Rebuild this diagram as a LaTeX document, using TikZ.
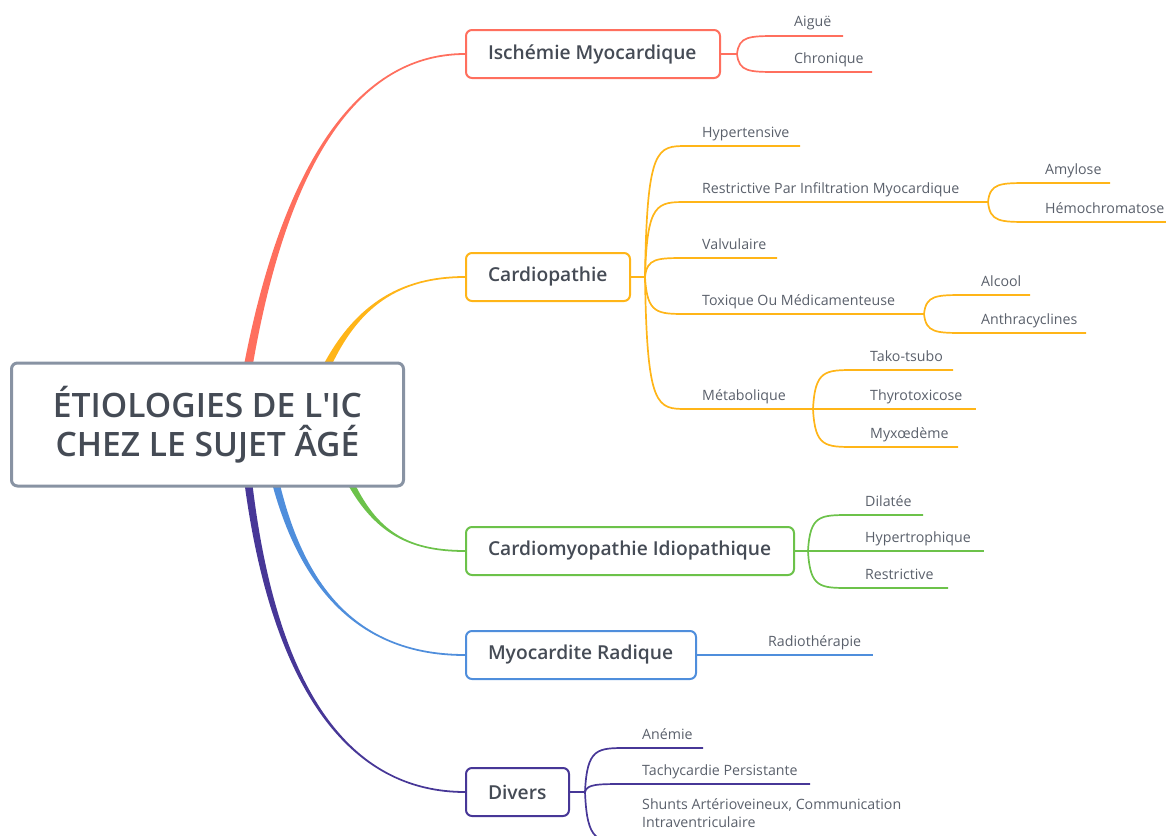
\documentclass[tikz,border=0pt]{standalone}
\usepackage{fontspec}
\setmainfont{Open Sans}
\newfontfamily\semi{Open Sans Semibold}
\usetikzlibrary{calc}
\pgfdeclarelayer{bg}
\pgfsetlayers{bg,main}
\definecolor{cred}{HTML}{FF6F5E}
\definecolor{cyel}{HTML}{FFB518}
\definecolor{cgrn}{HTML}{6CC24A}
\definecolor{cblu}{HTML}{4F8EDC}
\definecolor{cpur}{HTML}{473797}
\definecolor{rootb}{HTML}{8893A3}
\definecolor{txt}{HTML}{454B55}
\definecolor{ltxt}{HTML}{5A606B}
% tapered connector: colour, start, c1, c2, end, half width at start, side sign
\newcommand\taper[7]{%
  \fill[#1] ($#2+(-#6,0)$) .. controls ($#3+(-#6*0.6,0)$) and ($#4+#7*(0,-0.9)$) .. ($#5+#7*(0,-0.9)$)
    -- ($#5+#7*(0,0.9)$) .. controls ($#4+#7*(0,0.9)$) and ($#3+(#6*0.6,0)$) .. ($#2+(#6,0)$) -- cycle;}
\newcommand\twigline[3]{%
  \draw[twig=#1] (#2) .. controls ($(#2 |- #3)+(2,0)$) and ($(#2 |- #3)+(12,0)$) .. ($(#2 |- #3)+(42,0)$) -- (#3);}
\newcommand\twig[5]{%
  \twigline{#1}{#2}{#3}
  \node[leaf] (#4) at ($(#2 |- #3)+(57,-9)$) {#5};}
\newcommand\btext[2]{\makebox[#1][l]{#2}}
\begin{document}
\begin{tikzpicture}[x=1pt,y=-1pt,
  rootbox/.style={draw=rootb, line width=3pt, rounded corners=6pt, fill=white,
    minimum width=392pt, minimum height=123pt, align=center,
    font=\semi\fontsize{33.6}{39}\selectfont, text=txt},
  branch/.style={draw=#1, line width=2pt, rounded corners=6pt, fill=white,
    minimum height=48pt, anchor=west, inner xsep=22pt,
    font=\semi\fontsize{19.2}{23}\selectfont, text=txt},
  leaf/.style={anchor=base west, inner sep=0pt, font=\fontsize{14.2}{17}\selectfont, text=ltxt},
  twig/.style={draw=#1, line width=1.7pt}]
\useasboundingbox (0,0) rectangle (1166,835);

% root and branch nodes
\node[rootbox] (root) at (207.5,424.5) {ÉTIOLOGIES DE L\textquotesingle IC\\CHEZ LE SUJET ÂGÉ};
\node[branch=cred] (isc) at (465,54) {\btext{210pt}{Ischémie Myocardique}};
\node[branch=cyel] (car) at (465,277) {\btext{120pt}{Cardiopathie}};
\node[branch=cgrn] (cmi) at (465,551) {\btext{284pt}{Cardiomyopathie Idiopathique}};
\node[branch=cblu] (myo) at (465,655) {\btext{186pt}{Myocardite Radique}};
\node[branch=cpur] (div) at (465,792) {\btext{59pt}{Divers}};

% tapered main connectors
\coordinate (r1) at ($(root.north)+(38.5,17)$);
\coordinate (r2) at ($(root.north)+(114.5,15)$);
\coordinate (r3) at ($(root.south)+(137.5,-16)$);
\coordinate (r4) at ($(root.south)+(65.5,-16)$);
\coordinate (r5) at ($(root.south)+(39.5,-16)$);
\begin{pgfonlayer}{bg}
\taper{cred}{(r1)}{(280,180)}{(350,54)}{(isc.west)}{4.5}{1}
\taper{cyel}{(r2)}{(354,305)}{(400,277)}{(car.west)}{4.5}{1}
\taper{cgrn}{(r3)}{(372,530)}{(405,551)}{(cmi.west)}{4}{-1}
\taper{cblu}{(r4)}{(300,590)}{(360,655)}{(myo.west)}{4}{-1}
\taper{cpur}{(r5)}{(272,690)}{(350,792)}{(div.west)}{4}{-1}
\end{pgfonlayer}

% Ischémie
\coordinate (fI) at ($(isc.east)+(16,0)$);
\draw[twig=cred] (isc.east) -- (fI);
\coordinate (eAig) at (843,36);
\coordinate (eChr) at (872,72);
\twig{cred}{fI}{eAig}{aig}{Aiguë}
\twig{cred}{fI}{eChr}{chr}{Chronique}

% Cardiopathie
\coordinate (fC) at ($(car.east)+(14,0)$);
\draw[twig=cyel] (car.east) -- (fC);
\coordinate (eHyp) at (800,146);
\coordinate (fR) at (988,202);
\coordinate (eVal) at (777,258);
\coordinate (fT) at (924,314);
\coordinate (fM) at (813,409);
\twig{cyel}{fC}{eHyp}{hyp}{Hypertensive}
\twig{cyel}{fC}{fR}{res}{Restrictive Par Infiltration Myocardique}
\twig{cyel}{fC}{eVal}{val}{Valvulaire}
\twig{cyel}{fC}{fT}{tox}{Toxique Ou Médicamenteuse}
\twig{cyel}{fC}{fM}{met}{Métabolique}
\coordinate (eAmy) at (1110,183);
\coordinate (eHem) at (1170,222);
\twig{cyel}{fR}{eAmy}{amy}{Amylose}
\twig{cyel}{fR}{eHem}{hem}{Hémochromatose}
\coordinate (eAlc) at (1030,295);
\coordinate (eAnt) at (1086,333);
\twig{cyel}{fT}{eAlc}{alc}{Alcool}
\twig{cyel}{fT}{eAnt}{ant}{Anthracyclines}
\coordinate (eTak) at (953,370);
\coordinate (eThy) at (976,409);
\coordinate (eMyx) at (958,447);
\twig{cyel}{fM}{eTak}{tak}{Tako-tsubo}
\twig{cyel}{fM}{eThy}{thy}{Thyrotoxicose}
\twig{cyel}{fM}{eMyx}{myx}{Myxœdème}

% Cardiomyopathie idiopathique
\coordinate (fG) at ($(cmi.east)+(13,0)$);
\draw[twig=cgrn] (cmi.east) -- (fG);
\coordinate (eDil) at (923,515);
\coordinate (eHpt) at (984,551);
\coordinate (eRst) at (948,588);
\twig{cgrn}{fG}{eDil}{dil}{Dilatée}
\twig{cgrn}{fG}{eHpt}{hpt}{Hypertrophique}
\twig{cgrn}{fG}{eRst}{rst}{Restrictive}

% Myocardite radique
\coordinate (eRad) at (873,655);
\draw[twig=cblu] (myo.east) -- (eRad);
\node[leaf] (rad) at (768,646) {Radiothérapie};

% Divers
\coordinate (fD) at ($(div.east)+(15,0)$);
\draw[twig=cpur] (div.east) -- (fD);
\coordinate (eAne) at (703,748);
\coordinate (eTac) at (810,784);
\coordinate (eShu) at (960,842);
\twig{cpur}{fD}{eAne}{ane}{Anémie}
\twig{cpur}{fD}{eTac}{tac}{Tachycardie Persistante}
\twigline{cpur}{fD}{eShu}
\node[leaf, anchor=north west, align=left, font=\fontsize{14.2}{18}\selectfont] (shu) at (642,798)
  {Shunts Artérioveineux, Communication\\Intraventriculaire};
\end{tikzpicture}
\end{document}
